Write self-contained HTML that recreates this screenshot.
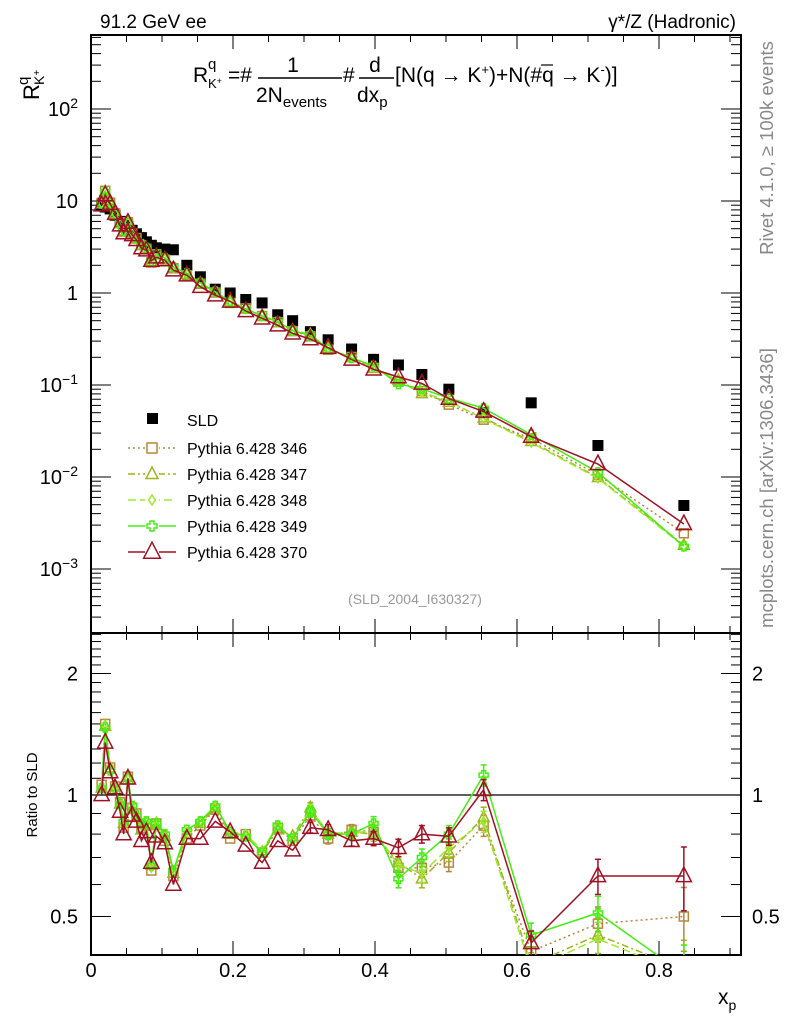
<!DOCTYPE html>
<html><head><meta charset="utf-8"><style>
html,body{margin:0;padding:0;background:#fff;}
svg{display:block;font-family:"Liberation Sans",sans-serif;}
</style></head><body>
<svg id="c" width="786" height="1024" viewBox="0 0 786 1024" xmlns="http://www.w3.org/2000/svg">
<rect x="0" y="0" width="786" height="1024" fill="#fff"/>
<g id="main"></g>
<g id="ratio"></g>
<text x="100" y="28" font-size="19">91.2 GeV ee</text>
<text x="736" y="28" font-size="19" text-anchor="end">γ*/Z (Hadronic)</text>
<text transform="translate(773,148) rotate(-90)" font-size="18.5" fill="#888" text-anchor="middle">Rivet 4.1.0, ≥ 100k events</text>
<text transform="translate(773,488) rotate(-90)" font-size="18.5" fill="#888" text-anchor="middle">mcplots.cern.ch [arXiv:1306.3436]</text>
<g>
<text transform="translate(39,100) rotate(-90)" font-size="22">R</text>
<text transform="translate(28,85) rotate(-90)" font-size="15">q</text>
<text transform="translate(44,85) rotate(-90)" font-size="14">K<tspan dy="-4" font-size="10">+</tspan></text>
</g>
<g font-size="21">
<text x="193" y="82">R</text>
<text x="208" y="69" font-size="15">q</text>
<text x="208" y="88" font-size="13">K<tspan dy="-4" font-size="9">+</tspan></text>
<text x="228" y="82">=#</text>
<text x="293" y="72" text-anchor="middle">1</text>
<line x1="258" y1="78" x2="342" y2="78" stroke="#000" stroke-width="1.5"/>
<text x="256" y="102">2N<tspan font-size="15" dy="5">events</tspan></text>
<text x="343" y="82">#</text>
<text x="375" y="72" text-anchor="middle">d</text>
<line x1="359" y1="78" x2="394" y2="78" stroke="#000" stroke-width="1.5"/>
<text x="357" y="102">dx<tspan font-size="15" dy="5">p</tspan></text>
<text x="395" y="82">[N(q → K<tspan font-size="13" dy="-8">+</tspan><tspan dy="8">)+N(#</tspan><tspan>q</tspan><tspan> → K</tspan><tspan font-size="13" dy="-8">-</tspan><tspan dy="8">)]</tspan></text>
<line x1="541" y1="65" x2="553" y2="65" stroke="#000" stroke-width="1.2"/>
</g>
<text x="415" y="604" font-size="14" fill="#999" text-anchor="middle">(SLD_2004_I630327)</text>
<text transform="translate(37,795) rotate(-90)" font-size="15" text-anchor="middle">Ratio to SLD</text>
<text x="718" y="1004" font-size="21">x<tspan font-size="14" dy="6">p</tspan></text>
<g id="legend"></g>
</svg>
<script>
// ---- data ----
const xp = [0.015,0.020,0.027,0.034,0.041,0.046,0.052,0.058,0.064,0.071,0.078,0.085,0.092,0.104,0.116,0.135,0.154,0.175,0.196,0.218,0.241,0.263,0.284,0.309,0.334,0.367,0.398,0.433,0.466,0.504,0.553,0.620,0.714,0.835];
const sld = [9.0,8.6,8.2,7.0,6.0,5.6,5.3,4.8,4.4,4.0,3.6,3.3,3.1,3.0,2.95,2.0,1.5,1.1,1.0,0.85,0.78,0.58,0.50,0.38,0.31,0.246,0.19,0.165,0.13,0.09,0.05,0.064,0.022,0.0049];
const r346 = [1.06,1.50,1.17,1.05,0.96,0.83,1.11,0.93,0.90,0.83,0.84,0.65,0.85,0.77,0.63,0.78,0.84,0.92,0.78,0.80,0.72,0.83,0.77,0.89,0.78,0.82,0.81,0.66,0.66,0.68,0.84,0.41,0.48,0.50];
const r347 = [1.04,1.48,1.16,1.03,0.95,0.85,1.09,0.92,0.88,0.82,0.85,0.67,0.84,0.79,0.64,0.80,0.85,0.93,0.80,0.79,0.72,0.82,0.79,0.93,0.80,0.81,0.80,0.68,0.62,0.72,0.88,0.38,0.45,0.37];
const r348 = [1.05,1.49,1.18,1.04,0.94,0.84,1.10,0.93,0.89,0.84,0.86,0.66,0.86,0.78,0.64,0.81,0.86,0.94,0.81,0.80,0.73,0.84,0.78,0.92,0.81,0.80,0.82,0.67,0.64,0.74,0.86,0.37,0.44,0.36];
const r349 = [1.04,1.47,1.15,1.04,0.95,0.86,1.10,0.94,0.89,0.85,0.86,0.67,0.85,0.80,0.65,0.82,0.86,0.94,0.81,0.79,0.72,0.84,0.78,0.91,0.80,0.80,0.85,0.62,0.70,0.80,1.12,0.45,0.51,0.36];
const r370 = [1.00,1.35,1.14,1.04,0.91,0.80,1.10,0.89,0.86,0.77,0.81,0.68,0.79,0.76,0.60,0.78,0.78,0.86,0.81,0.75,0.68,0.77,0.73,0.83,0.82,0.77,0.78,0.74,0.80,0.79,1.03,0.43,0.63,0.63];
const relErr = [0.02,0.02,0.02,0.02,0.02,0.02,0.02,0.02,0.02,0.02,0.02,0.02,0.02,0.02,0.02,0.02,0.02,0.02,0.02,0.02,0.02,0.02,0.02,0.03,0.03,0.03,0.04,0.05,0.05,0.05,0.06,0.07,0.1,0.18];
const mainTicks = [2,1,0,-1,-2,-3];
const ratioTicks = [2,1,0.5];
const xTicks = [0,0.2,0.4,0.6,0.8];

// ---- axes ----
const X0=91, X1=741, XS=710;
const sx = v => X0 + v*XS;
const MT=35, MB=633;
const sy = v => 293 - Math.log10(v)*92;
const RT=633, RB=955;
const sr = v => 795 - Math.log2(v)*121.5;
const NS="http://www.w3.org/2000/svg";
function mk(parent, tag, attrs){const e=document.createElementNS(NS,tag);for(const k in attrs)e.setAttribute(k,attrs[k]);parent.appendChild(e);return e;}
const main=document.getElementById('main'), ratio=document.getElementById('ratio'), svg=document.getElementById('c');

function frame(g,top,bot,name){
  const r=mk(g,'rect',{x:X0,y:top,width:X1-X0,height:bot-top,fill:'none',stroke:'#000','stroke-width':2});
  
  
  for(let v=0; v<=0.915; v+=0.05){
    const major = Math.abs(v/0.2-Math.round(v/0.2))<1e-6;
    const L = major?14:7;
    mk(g,'line',{x1:sx(v),x2:sx(v),y1:bot,y2:bot-L,stroke:'#000','stroke-width':1});
    mk(g,'line',{x1:sx(v),x2:sx(v),y1:top,y2:top+L,stroke:'#000','stroke-width':1});
  }
}
frame(main,MT,MB,'main-frame');
frame(ratio,RT,RB,'ratio-frame');

for(let d=-4; d<=2; d++){
  for(let m=1;m<10;m++){
    const v=m*Math.pow(10,d); const y=sy(v);
    if(y<MT||y>MB) continue;
    const L = m===1?20:10;
    mk(main,'line',{x1:X0,x2:X0+L,y1:y,y2:y,stroke:'#000','stroke-width':1});
    mk(main,'line',{x1:X1,x2:X1-L,y1:y,y2:y,stroke:'#000','stroke-width':1});
  }
}
mainTicks.forEach(d=>{
  const t=mk(svg,'text',{x:78,y:sy(Math.pow(10,d))+7,'font-size':20,'text-anchor':'end'});
  
  
  if(d===0) t.textContent='1';
  else if(d===1) t.textContent='10';
  else { t.textContent='10'; const s=mk(t,'tspan',{dy:-8,'font-size':14}); s.textContent=(d<0?'−':'')+Math.abs(d); }
});
[0.4,0.5,0.6,0.7,0.8,0.9,1,1.1,1.2,1.3,1.4,1.5,1.6,1.7,1.8,1.9,2,2.1,2.2,2.3,2.4,2.5].forEach(v=>{
  const y=sr(v); if(y<RT||y>RB) return;
  const L=(v===0.5||v===1||v===2)?20:10;
  mk(ratio,'line',{x1:X0,x2:X0+L,y1:y,y2:y,stroke:'#000','stroke-width':1});
  mk(ratio,'line',{x1:X1,x2:X1-L,y1:y,y2:y,stroke:'#000','stroke-width':1});
});
ratioTicks.forEach(v=>{
  const t=mk(svg,'text',{x:78,y:sr(v)+7,'font-size':20,'text-anchor':'end'}); t.textContent=String(v);
  
  
  const t2=mk(svg,'text',{x:752,y:sr(v)+7,'font-size':20}); t2.textContent=String(v);
  
  
});
xTicks.forEach(v=>{
  const t=mk(svg,'text',{x:sx(v),y:977,'font-size':20,'text-anchor':'middle'}); t.textContent=String(v);
  
  
});
const one=mk(ratio,'line',{x1:X0,x2:X1,y1:sr(1),y2:sr(1),stroke:'#000','stroke-width':1.3});



const defs=mk(svg,'defs',{});
const c1=mk(defs,'clipPath',{id:'cm'}); mk(c1,'rect',{x:X0,y:MT,width:X1-X0,height:MB-MT});
const c2=mk(defs,'clipPath',{id:'cr'}); mk(c2,'rect',{x:X0,y:RT,width:X1-X0,height:RB-RT});
const gm=mk(main,'g',{'clip-path':'url(#cm)'}), gr=mk(ratio,'g',{'clip-path':'url(#cr)'});

function marker(g,type,x,y,col,s){
  let e;
  if(type==='sq') e=mk(g,'rect',{x:x-s/2,y:y-s/2,width:s,height:s,fill:'none',stroke:col,'stroke-width':1.5});
  else if(type==='tri') e=mk(g,'path',{d:`M${x},${y-s*0.7}L${x+s*0.6},${y+s*0.45}L${x-s*0.6},${y+s*0.45}Z`,fill:'none',stroke:col,'stroke-width':1.5});
  else if(type==='dia') e=mk(g,'path',{d:`M${x},${y-s/2}L${x+s/3},${y}L${x},${y+s/2}L${x-s/3},${y}Z`,fill:'none',stroke:col,'stroke-width':1.5});
  else if(type==='cross') e=mk(g,'path',{d:`M${x-2},${y-s/2}h4v${s/2-2}h${s/2-2}v4h-${s/2-2}v${s/2-2}h-4v-${s/2-2}h-${s/2-2}v-4h${s/2-2}z`,fill:'none',stroke:col,'stroke-width':1.5});
  return e;
}
const series=[
  {name:'Pythia 6.428 346',r:r346,col:'#b8853c',dash:'2,3',m:'sq',s:10,id:'346'},
  {name:'Pythia 6.428 347',r:r347,col:'#9cb51c',dash:'7,3,2,3',m:'tri',s:10,id:'347'},
  {name:'Pythia 6.428 348',r:r348,col:'#a0e830',dash:'8,4',m:'dia',s:10,id:'348'},
  {name:'Pythia 6.428 349',r:r349,col:'#44ee11',dash:'',m:'cross',s:10,id:'349'},
  {name:'Pythia 6.428 370',r:r370,col:'#a01025',dash:'',m:'tri',s:14,id:'370'}
];
xp.forEach((x,i)=>{
  const e=mk(gm,'rect',{x:sx(x)-5.5,y:sy(sld[i])-5.5,width:11,height:11,fill:'#000'});
  
  
});
series.forEach(S=>{
  const vals=xp.map((x,i)=>S.r[i]*sld[i]);
  const pm=xp.map((x,i)=>`${i?'L':'M'}${sx(x).toFixed(1)},${sy(vals[i]).toFixed(1)}`).join('');
  const l1=mk(gm,'path',{d:pm,fill:'none',stroke:S.col,'stroke-width':1.5,'stroke-dasharray':S.dash});
  
  
  const pr=xp.map((x,i)=>`${i?'L':'M'}${sx(x).toFixed(1)},${sr(S.r[i]).toFixed(1)}`).join('');
  const l2=mk(gr,'path',{d:pr,fill:'none',stroke:S.col,'stroke-width':1.5,'stroke-dasharray':S.dash});
  
  
  xp.forEach((x,i)=>{
    const X=sx(x);
    const e=relErr[i];
    if(e>0.025){
      mk(gr,'line',{x1:X,x2:X,y1:sr(S.r[i]*(1+e)),y2:sr(S.r[i]*(1-e)),stroke:S.col,'stroke-width':1.5});
      mk(gr,'line',{x1:X-3,x2:X+3,y1:sr(S.r[i]*(1+e)),y2:sr(S.r[i]*(1+e)),stroke:S.col,'stroke-width':1.5});
      mk(gr,'line',{x1:X-3,x2:X+3,y1:sr(S.r[i]*(1-e)),y2:sr(S.r[i]*(1-e)),stroke:S.col,'stroke-width':1.5});
    }
    const a=marker(gm,S.m,X,sy(vals[i]),S.col,S.s*0.9);
    
    
    const b=marker(gr,S.m,X,sr(S.r[i]),S.col,S.s*0.9);
    
    
  });
});
const lg=document.getElementById('legend');
const ls=mk(lg,'rect',{x:147,y:413,width:11,height:11,fill:'#000'});


const lt=mk(lg,'text',{x:187,y:426,'font-size':16}); lt.textContent='SLD';


series.forEach((S,k)=>{
  const y=448+k*26;
  const ln=mk(lg,'line',{x1:128,x2:176,y1:y,y2:y,stroke:S.col,'stroke-width':1.5,'stroke-dasharray':S.dash});
  
  
  mk(lg,'rect',{x:145,y:y-7,width:14,height:14,fill:'#fff'});
  marker(lg,S.m,152,y,S.col,S.s);
  const t=mk(lg,'text',{x:187,y:y+6,'font-size':16}); t.textContent=S.name;
  
  
});
</script>
</body></html>
